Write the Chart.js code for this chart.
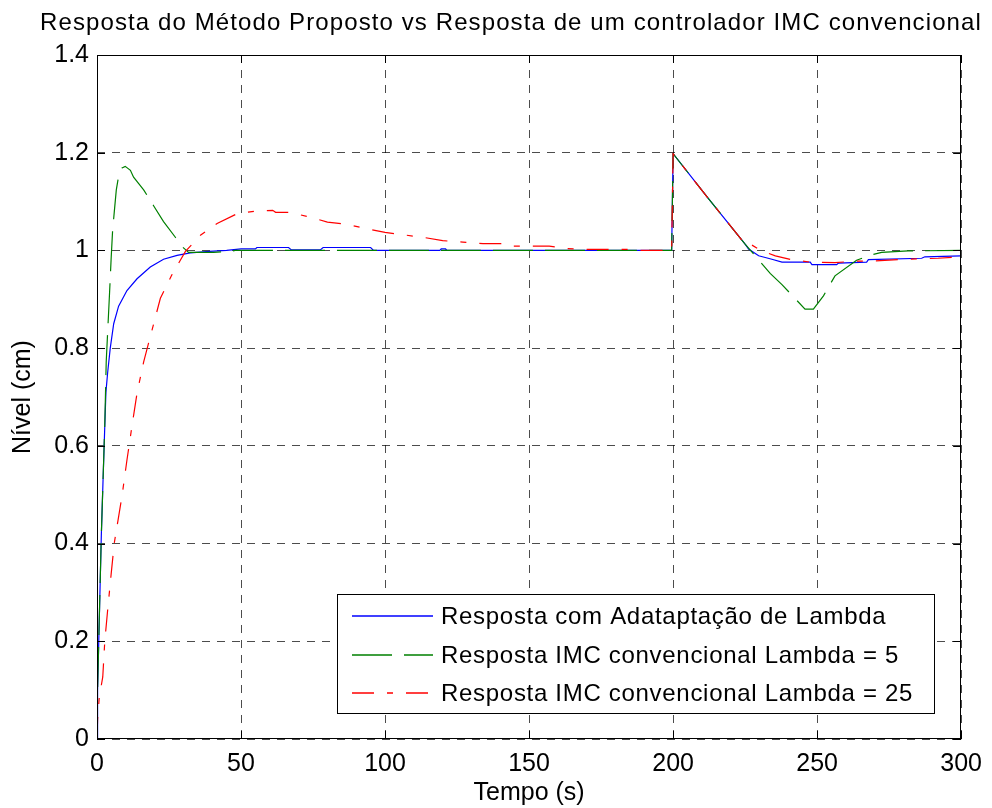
<!DOCTYPE html>
<html>
<head>
<meta charset="utf-8">
<script src="https://cdn.jsdelivr.net/npm/chart.js@4.4.1/dist/chart.umd.min.js"></script>
<style>
html,body{margin:0;padding:0;background:#fff;}
canvas{display:block;}
</style>
</head>
<body>
<canvas id="c" width="992" height="808"></canvas>
<script>
const chartTitle = "Resposta do Método Proposto vs Resposta de um controlador IMC convencional";
const xTitle = "Tempo (s)";
const yTitle = "Nível (cm)";
const seriesNames = [
  "Resposta com Adataptação de Lambda",
  "Resposta IMC convencional Lambda = 5",
  "Resposta IMC convencional Lambda = 25"
];
const xTickLabels = ["0","50","100","150","200","250","300"];
const yTickLabels = ["0","0.2","0.4","0.6","0.8","1","1.2","1.4"];

// Blue: adaptive lambda
const tBlue = [0,0.2,0.9,1.5,2.1,2.7,3.1,3.7,4.6,5.8,7.5,10.4,13.9,18.5,23.1,27.8,32.4,39,45,50,55,55.5,66.5,67.5,77.5,78.5,95,96,119,119.5,121,121.5,199.5,200,212,225,226.2,229.7,234.3,237.8,247.6,248.2,256.8,257.4,267.2,267.8,286.3,287.4,300];
const yBlue = [0,0.10,0.27,0.417,0.53,0.64,0.71,0.75,0.80,0.85,0.886,0.918,0.942,0.966,0.982,0.990,0.995,0.998,1.0,1.003,1.003,1.006,1.006,1.001,1.001,1.006,1.006,1.0,1.0,1.003,1.003,1.0,1.0,1.198,1.108,1.013,1.003,0.989,0.982,0.976,0.976,0.971,0.971,0.974,0.976,0.981,0.984,0.987,0.989];

// Green: IMC lambda = 5
const tGreen = [0,0.2,0.9,1.5,2.1,2.7,3.2,3.8,4.4,4.9,5.4,6.0,6.7,7.5,8.7,9.8,11.6,12.7,16.2,19.7,23.1,27.2,29.5,31.8,40.5,46.3,48,199.5,200,212,225,233.7,237.8,245.8,248.7,252.2,256.2,263.7,269,272.4,281.6,300];
const yGreen = [0,0.10,0.272,0.417,0.53,0.643,0.772,0.845,0.918,0.982,1.039,1.079,1.124,1.152,1.169,1.172,1.164,1.150,1.124,1.091,1.059,1.027,1.008,0.996,0.996,0.998,1.0,1.0,1.198,1.108,1.013,0.953,0.930,0.880,0.880,0.907,0.948,0.980,0.991,0.996,0.999,1.0];

// Red: IMC lambda = 25
const tRed = [0,0.2,0.8,2.0,2.7,3.7,4.9,6.0,8.7,10.4,12.2,13.9,16.2,19.1,22,26,30.7,35.9,41.7,48.6,55.6,61,62,67,74,80,86,94,100,105,114,120,127,134,142,144,157,163,170,185,187,199.5,200,212,225,226.2,230.8,235.5,241.2,247.6,256.2,263.2,269,280.5,292,300];
const yRed = [0,0.04,0.086,0.127,0.20,0.264,0.337,0.401,0.498,0.571,0.643,0.708,0.772,0.837,0.902,0.950,0.998,1.031,1.055,1.075,1.081,1.082,1.078,1.078,1.068,1.058,1.054,1.044,1.037,1.033,1.026,1.020,1.017,1.014,1.014,1.009,1.009,1.004,1.002,1.002,1.0,1.0,1.198,1.108,1.013,1.015,0.999,0.989,0.981,0.976,0.975,0.978,0.978,0.982,0.984,0.987];

const colors = ["#0000ff", "#008000", "#ff0000"];
const dashes = [[], [40, 12], [22, 13, 6, 13]];

function pts(t, y) { return t.map((v, i) => ({x: v, y: y[i]})); }

const FONT = "'Liberation Sans', Arial, sans-serif";

const framePlugin = {
  id: 'frame',
  afterDatasetsDraw(chart) {
    const {ctx, chartArea: a, scales} = chart;
    ctx.save();
    ctx.strokeStyle = '#000';
    ctx.lineWidth = 1;
    ctx.setLineDash([]);
    ctx.strokeRect(Math.round(a.left) + 0.5, Math.round(a.top) + 0.5, Math.round(a.right - a.left) - 1, Math.round(a.bottom - a.top) - 1);
    const tl = 8;
    ctx.beginPath();
    scales.x.ticks.forEach(t => {
      const px = Math.round(scales.x.getPixelForValue(t.value)) + 0.5;
      ctx.moveTo(px, a.bottom); ctx.lineTo(px, a.bottom - tl);
      ctx.moveTo(px, a.top); ctx.lineTo(px, a.top + tl);
    });
    scales.y.ticks.forEach(t => {
      const py = Math.round(scales.y.getPixelForValue(t.value)) + 0.5;
      ctx.moveTo(a.left, py); ctx.lineTo(a.left + tl, py);
      ctx.moveTo(a.right, py); ctx.lineTo(a.right - tl, py);
    });
    ctx.stroke();
    ctx.restore();
  },
  afterDraw(chart) {
    const {ctx} = chart;
    ctx.save();
    // title
    ctx.fillStyle = '#000';
    ctx.font = "24px " + FONT;
    try { ctx.letterSpacing = '1.1px'; } catch (e) {}
    ctx.textAlign = 'center';
    ctx.textBaseline = 'alphabetic';
    ctx.fillText(chartTitle, 511, 30);
    // legend box
    const L = 337, T = 594, R = 935, B = 714;
    ctx.setLineDash([]);
    ctx.fillStyle = '#fff';
    ctx.fillRect(L, T, R - L, B - T);
    ctx.strokeStyle = '#000';
    ctx.lineWidth = 1;
    ctx.strokeRect(L + 0.5, T + 0.5, R - L - 1, B - T - 1);
    const rows = [616, 655, 693];
    // legend texts
    ctx.fillStyle = '#000';
    ctx.font = "24px " + FONT;
    try { ctx.letterSpacing = '0.7px'; } catch (e) {}
    ctx.textAlign = 'left';
    ctx.textBaseline = 'middle';
    seriesNames.forEach((name, i) => ctx.fillText(name, 441, rows[i] + 1));
    ctx.restore();
    // legend sample lines
    for (let i = 0; i < 3; i++) {
      ctx.save();
      ctx.globalAlpha = 1;
      ctx.lineWidth = 1.5;
      ctx.strokeStyle = colors[i];
      ctx.setLineDash(dashes[i]);
      ctx.lineDashOffset = 0;
      ctx.beginPath();
      ctx.moveTo(352, rows[i]);
      ctx.lineTo(433, rows[i]);
      ctx.stroke();
      ctx.restore();
    }
  }
};

const datasets = [
  {label: seriesNames[0], data: pts(tBlue, yBlue), borderColor: colors[0], borderDash: dashes[0], order: 2},
  {label: seriesNames[1], data: pts(tGreen, yGreen), borderColor: colors[1], borderDash: dashes[1], order: 1},
  {label: seriesNames[2], data: pts(tRed, yRed), borderColor: colors[2], borderDash: dashes[2], order: 0}
].map(d => Object.assign(d, {borderWidth: 1.2, pointRadius: 0, tension: 0, fill: false}));

new Chart(document.getElementById('c'), {
  type: 'line',
  data: {datasets},
  options: {
    responsive: false,
    animation: false,
    events: [],
    layout: {padding: {left: 0, right: 28, top: 55, bottom: 0}},
    plugins: {legend: {display: false}, title: {display: false}, tooltip: {enabled: false}},
    scales: {
      x: {
        type: 'linear', min: 0, max: 300,
        afterFit(s) { s.height = 69; },
        ticks: {stepSize: 50, color: '#000', padding: 10, maxRotation: 0,
          font: {family: FONT, size: 25},
          callback: (v, i) => xTickLabels[i]},
        grid: {color: 'rgba(0,0,0,0.7)', lineWidth: 1, drawTicks: false},
        border: {display: false, dash: [8, 7]},
        title: {display: true, text: xTitle, color: '#000', font: {family: FONT, size: 25}, padding: {top: 0, bottom: 0}}
      },
      y: {
        type: 'linear', min: 0, max: 1.4,
        afterFit(s) { s.width = 97; },
        ticks: {stepSize: 0.2, color: '#000', padding: 8,
          font: {family: FONT, size: 25},
          callback: (v, i) => yTickLabels[i]},
        grid: {color: 'rgba(0,0,0,0.7)', lineWidth: 1, drawTicks: false},
        border: {display: false, dash: [8, 7]},
        title: {display: true, text: yTitle, color: '#000', font: {family: FONT, size: 25}, padding: {top: 8, bottom: 0}}
      }
    }
  },
  plugins: [framePlugin]
});
</script>
</body>
</html>
